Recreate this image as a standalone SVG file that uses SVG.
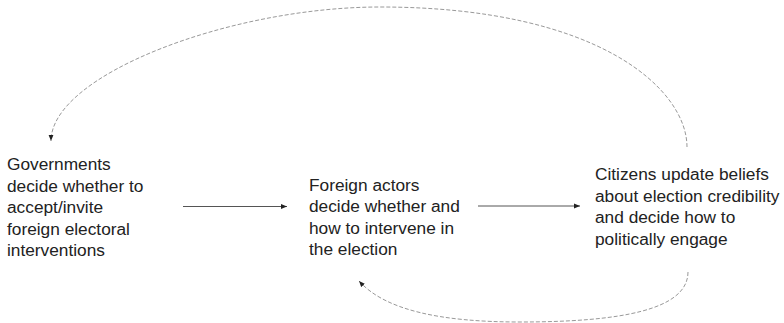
<svg xmlns="http://www.w3.org/2000/svg" width="784" height="323" viewBox="0 0 784 323">
  <defs>
    <style>
      .t { font-family: "Liberation Sans", Arial, sans-serif; font-size: 17.3px; fill: #222; }
      .solid { fill: none; stroke: #555; stroke-width: 1; }
      .dash { fill: none; stroke: #999; stroke-width: 1; stroke-dasharray: 4 2; }
    </style>
    <marker id="ah" viewBox="0 0 10 10" refX="10" refY="5" markerWidth="6" markerHeight="6" markerUnits="userSpaceOnUse" orient="auto">
      <path d="M0,1 L10,5 L0,9 Z" fill="#222"/>
    </marker>
  </defs>
  <rect width="784" height="323" fill="#fff"/>
  <g id="connectors">
    <line class="solid" x1="183" y1="206.5" x2="287" y2="206.5" marker-end="url(#ah)"/>
    <line class="solid" x1="478" y1="206" x2="580" y2="206" marker-end="url(#ah)"/>
    <path class="dash" d="M687,147 C687,90 600,7 380,7 C230,7 51,75 51,141" marker-end="url(#ah)"/>
    <path class="dash" d="M688,272 C688,310 620,322 520,322 C440,322 385,310 359,281" marker-end="url(#ah)"/>
  </g>
  <g id="node-governments">
    <text class="t" x="7" y="170">Governments</text>
    <text class="t" x="7" y="191.5">decide whether to</text>
    <text class="t" x="7" y="213">accept/invite</text>
    <text class="t" x="7" y="234.5">foreign electoral</text>
    <text class="t" x="7" y="256">interventions</text>
  </g>
  <g id="node-foreign-actors">
    <text class="t" x="309" y="190.5">Foreign actors</text>
    <text class="t" x="309" y="212">decide whether and</text>
    <text class="t" x="309" y="233.5">how to intervene in</text>
    <text class="t" x="309" y="255">the election</text>
  </g>
  <g id="node-citizens">
    <text class="t" x="595" y="180">Citizens update beliefs</text>
    <text class="t" x="595" y="201.5">about election credibility</text>
    <text class="t" x="595" y="223">and decide how to</text>
    <text class="t" x="595" y="244.5">politically engage</text>
  </g>
</svg>
